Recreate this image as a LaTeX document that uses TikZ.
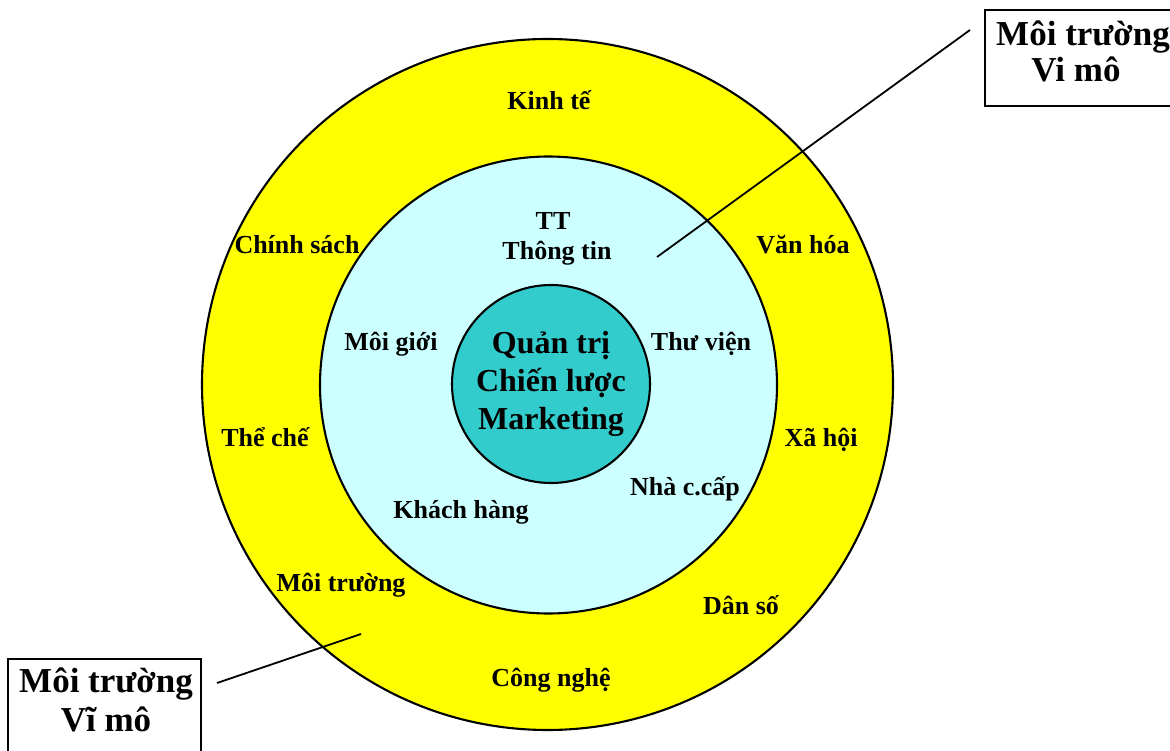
\documentclass[tikz,border=0pt]{standalone}
\usepackage{fontspec}
\setmainfont{Liberation Serif}
\definecolor{ringyellow}{HTML}{FFFF00}
\definecolor{ringcyan}{HTML}{CCFFFF}
\definecolor{coreteal}{HTML}{33CCCC}
\begin{document}
\begin{tikzpicture}[x=1pt,y=-1pt,
  lab/.style={font=\fontsize{26}{30}\selectfont\bfseries, anchor=base, inner sep=0pt},
  boxtxt/.style={font=\fontsize{35}{38}\selectfont\bfseries, anchor=base, inner sep=0pt},
  ring/.style={circle, draw=black, line width=2.1pt, inner sep=0pt},
  framebox/.style={draw=black, line width=2.1pt, inner sep=0pt},
  conn/.style={draw=black, line width=1.8pt}]
\useasboundingbox (0,0) rectangle (1170,751);
\clip (0,0) rectangle (1170,751);
\fill[white] (0,0) rectangle (1170,751);
% rings
\node[ring, fill=ringyellow, minimum size=691pt] (outer) at (547.5,384.5) {};
\node[ring, fill=ringcyan, minimum size=457pt] (middle) at (548.5,385) {};
\node[ring, fill=coreteal, minimum size=198pt, align=center,
      font=\fontsize{32}{38}\selectfont\bfseries] (inner) at (551,384)
      {Quản trị\\Chiến lược\\Marketing};
% outer labels
\node[lab] (kt) at (549,110) {Kinh tế};
\node[lab] (cs) at (297,254) {Chính sách};
\node[lab] (vh) at (803,254) {Văn hóa};
\node[lab] (tc) at (265,446) {Thể chế};
\node[lab] (xh) at (821,446) {Xã hội};
\node[lab] (mt) at (341,591) {Môi trường};
\node[lab] (ds) at (741,614) {Dân số};
\node[lab] (cn) at (551,686) {Công nghệ};
% middle labels
\node[lab] (tt) at (553,230) {TT};
\node[lab] (ttin) at (557,260) {Thông tin};
\node[lab] (mg) at (391,350) {Môi giới};
\node[lab] (tv) at (701,350) {Thư viện};
\node[lab] (ncc) at (685,495) {Nhà c.cấp};
\node[lab] (kh) at (461,518) {Khách hàng};
% boxes
\node[framebox, minimum width=191pt, minimum height=96pt] (vibox) at (1080.5,58) {};
\node[boxtxt] (vit1) at (1083,46) {Môi trường};
\node[boxtxt] (vit2) at (1076,82) {Vi mô};
\node[framebox, minimum width=193pt, minimum height=110pt] (vibox2) at (104.5,714) {};
\node[boxtxt] (vib1) at (106,692) {Môi trường};
\node[boxtxt] (vib2) at (106,731) {Vĩ mô};
% connectors
\coordinate (a1) at (657,257);
\coordinate (a2) at (970,30);
\draw[conn] (a1) -- (a2);
\coordinate (b1) at (361,634);
\coordinate (b2) at (217,683);
\draw[conn] (b1) -- (b2);
\end{tikzpicture}
\end{document}
